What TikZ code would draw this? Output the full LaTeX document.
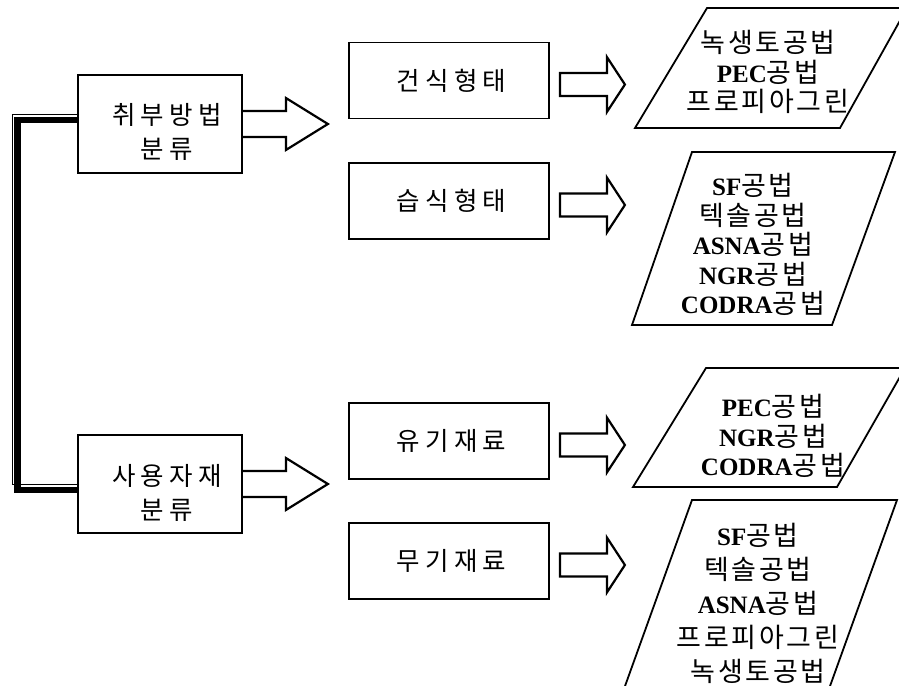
\documentclass[tikz,border=0pt]{standalone}
\usepackage{fontspec}
\setmainfont{Liberation Serif}
\newfontfamily\krb[LetterSpace=20]{Noto Sans CJK KR}
\newfontfamily\krp[LetterSpace=10]{Noto Sans CJK KR}
\usetikzlibrary{calc}
\newcommand\lb[1]{{\rmfamily\bfseries\fontsize{25}{29}\selectfont #1}}
\begin{document}
\begin{tikzpicture}[x=1pt,y=-1pt,
  box/.style={draw, line width=1.8pt, inner sep=0pt, align=center},
  lbox/.style={box, minimum width=164pt, minimum height=98pt},
  mbox/.style={box, minimum width=200pt, minimum height=76pt, font=\fontsize{25.5}{34}\selectfont\krb},
  btext/.style={align=center, inner sep=0pt, font=\fontsize{25.5}{34}\selectfont\krb},
  ptext/.style={align=center, inner sep=0pt, font=\fontsize{27}{29.5}\selectfont\krp},
  outline/.style={line width=1.8pt, line join=miter},
  barrow/.style={line width=2.2pt, line join=miter}
]
\useasboundingbox (0,0) rectangle (899,685);

% left boxes
\node[lbox] (b1) at (160,124) {};
\node[btext] (b1t) at (167,131.5) {취부방법\\분류};
\node[lbox] (b2) at (160,484) {};
\node[btext] (b2t) at (167,492.5) {사용자재\\분류};

% double connector
\draw[line width=6.5pt, line join=miter] ($(b1.west)+(0,-4)$) -| ($(b2.west)+(-59.5,6)$) -- ($(b2.west)+(0,6)$);
\draw[line width=1.5pt, line join=miter] ($(b1.west)+(0,-9.5)$) -| ($(b2.west)+(-64.5,0.5)$) -- ($(b2.west)+(0,0.5)$);

% left block arrows
\foreach \b in {b1,b2}{
  \begin{scope}[shift={(\b.east)}]
    \draw[barrow] (0,-13) -- (43,-13) -- (43,-26) -- (85,0) -- (43,26) -- (43,13) -- (0,13);
  \end{scope}
}

% middle boxes
\node[mbox] (m1) at (449,80.5) {\hspace*{5pt}건식형태};
\node[mbox] (m2) at (449,201) {\hspace*{5pt}습식형태};
\node[mbox] (m3) at (449,441) {\hspace*{5pt}유기재료};
\node[mbox] (m4) at (449,561) {\hspace*{5pt}무기재료};

% middle block arrows
\foreach \m in {m1,m2,m3,m4}{
  \begin{scope}[shift={($(\m.east)+(10,4)$)}]
    \draw[barrow] (0,-11.5) -- (47,-11.5) -- (47,-27.5) -- (65,0) -- (47,27.5) -- (47,11.5) -- (0,11.5) -- cycle;
  \end{scope}
}

% parallelograms
\coordinate (p1a) at (707,8);   \coordinate (p1b) at (907,8);
\coordinate (p1c) at (840,128); \coordinate (p1d) at (635,128);
\draw[outline] (p1a) -- (p1b) -- (p1c) -- (p1d) -- cycle;
\node[ptext] (p1t) at (768,72) {녹생토공법\\\lb{PEC}공법\\프로피아그린};

\coordinate (p2a) at (692,152); \coordinate (p2b) at (895,152);
\coordinate (p2c) at (832,325); \coordinate (p2d) at (632,325);
\draw[outline] (p2a) -- (p2b) -- (p2c) -- (p2d) -- cycle;
\node[ptext] (p2t) at (753,244.5) {\lb{SF}공법\\텍솔공법\\\lb{ASNA}공법\\\lb{NGR}공법\\\lb{CODRA}공법};

\coordinate (p3a) at (706,368); \coordinate (p3b) at (905,368);
\coordinate (p3c) at (837,487); \coordinate (p3d) at (633,487);
\draw[outline] (p3a) -- (p3b) -- (p3c) -- (p3d) -- cycle;
\node[ptext] (p3t) at (773,436) {\lb{PEC}공법\\\lb{NGR}공법\\\lb{CODRA}공법};

\coordinate (p4a) at (692,500); \coordinate (p4b) at (897,500);
\coordinate (p4c) at (825,700); \coordinate (p4d) at (620,700);
\draw[outline] (p4a) -- (p4b) -- (p4c) -- (p4d) -- cycle;
\node[ptext, font=\fontsize{27}{34}\selectfont\krp] (p4t) at (758,603) {\lb{SF}공법\\텍솔공법\\\lb{ASNA}공법\\프로피아그린\\녹생토공법};
\end{tikzpicture}
\end{document}
